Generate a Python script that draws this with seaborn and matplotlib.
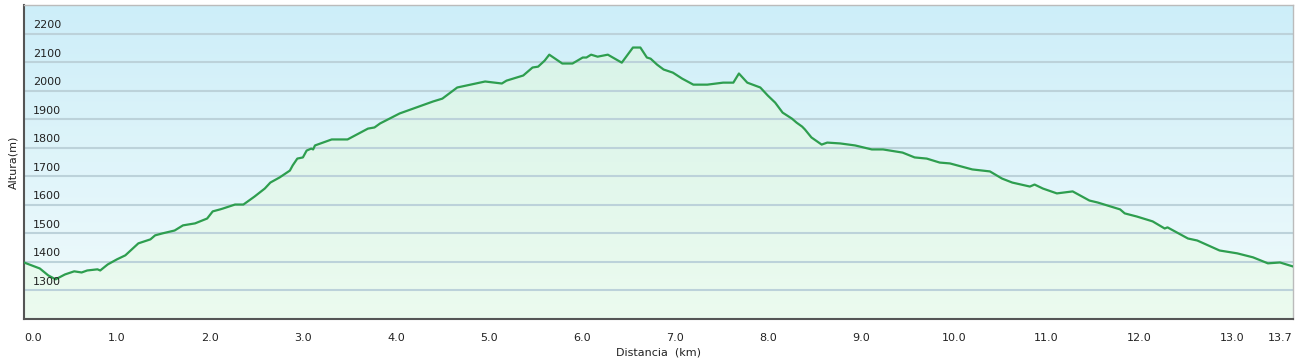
import numpy as np
import pandas as pd
import matplotlib
matplotlib.use("Agg")
import matplotlib.pyplot as plt
from matplotlib.colors import LinearSegmentedColormap
import seaborn as sns

# Perfil de altura (km, m)
distancia = [0.00, 0.17, 0.26, 0.34, 0.44, 0.54, 0.62, 0.68, 0.79, 0.82, 0.90, 1.00,
             1.09, 1.16, 1.23, 1.36, 1.41, 1.49, 1.62, 1.71, 1.84, 1.97, 2.03, 2.11,
             2.14, 2.27, 2.36, 2.48, 2.59, 2.65, 2.75, 2.86, 2.89, 2.94, 3.00, 3.04,
             3.09, 3.11, 3.13, 3.31, 3.48, 3.70, 3.77, 3.83, 4.04, 4.40, 4.50, 4.66,
             4.76, 4.96, 5.14, 5.19, 5.37, 5.47, 5.53, 5.60, 5.65, 5.79, 5.90, 6.01,
             6.05, 6.10, 6.17, 6.28, 6.43, 6.55, 6.63, 6.70, 6.74, 6.81, 6.88, 6.98,
             7.08, 7.20, 7.35, 7.52, 7.63, 7.69, 7.78, 7.92, 8.00, 8.08, 8.16, 8.26,
             8.31, 8.37, 8.40, 8.47, 8.58, 8.64, 8.78, 8.94, 9.12, 9.24, 9.45, 9.58,
             9.71, 9.85, 9.96, 10.20, 10.39, 10.52, 10.63, 10.82, 10.87, 10.96, 11.11,
             11.28, 11.46, 11.55, 11.79, 11.84, 11.97, 12.14, 12.27, 12.30, 12.52,
             12.62, 12.86, 13.05, 13.22, 13.38, 13.51, 13.65]
altura = [1398, 1377, 1353, 1339, 1356, 1367, 1363, 1370, 1374, 1370, 1391, 1409,
          1423, 1444, 1465, 1479, 1493, 1500, 1510, 1528, 1535, 1552, 1577, 1584,
          1587, 1601, 1601, 1629, 1657, 1678, 1696, 1720, 1738, 1762, 1766, 1790,
          1797, 1794, 1808, 1829, 1829, 1867, 1871, 1885, 1920, 1962, 1972, 2011,
          2018, 2032, 2025, 2035, 2053, 2081, 2084, 2105, 2126, 2095, 2095, 2116,
          2116, 2126, 2119, 2126, 2098, 2151, 2151, 2116, 2112, 2091, 2074, 2063,
          2042, 2021, 2021, 2028, 2028, 2060, 2028, 2011, 1983, 1958, 1923, 1902,
          1888, 1874, 1864, 1836, 1811, 1818, 1815, 1808, 1794, 1794, 1783, 1766,
          1762, 1748, 1745, 1724, 1717, 1692, 1678, 1664, 1671, 1657, 1640,
          1647, 1615, 1608, 1584, 1570, 1559, 1542, 1517, 1521, 1482,
          1475, 1440, 1430, 1416, 1395, 1398, 1384]

y_ticks = [1300, 1400, 1500, 1600, 1700, 1800, 1900, 2000, 2100, 2200]
x_ticks = [0, 1, 2, 3, 4, 5, 6, 7, 8, 9, 10, 11, 12, 13, 13.65]
x_labels = ["0.0", "1.0", "2.0", "3.0", "4.0", "5.0", "6.0", "7.0", "8.0", "9.0",
            "10.0", "11.0", "12.0", "13.0", "13.7"]

df = pd.DataFrame({"distancia": distancia, "altura": altura})

sns.set_style("white")
plt.rcParams["font.family"] = ["DejaVu Sans"]

fig = plt.figure(figsize=(12.98, 3.59), dpi=100)
ax = fig.add_axes([24 / 1298, 40 / 359, 1269 / 1298, 314 / 359])

xmin, xmax = 0, 13.65
ymin, ymax = 1200, 2300
ax.set_xlim(xmin, xmax)
ax.set_ylim(ymin, ymax)

# fondo degradado azul claro -> casi blanco
bg = LinearSegmentedColormap.from_list("bg", ["#f1fbfb", "#cdeef9"])
grad = np.linspace(0, 1, 256).reshape(-1, 1)
ax.imshow(grad, cmap=bg, aspect="auto", origin="lower",
          extent=[xmin, xmax, ymin, ymax], zorder=0)

# relleno verde bajo la curva (degradado recortado al poligono)
poly = ax.fill_between(df["distancia"], df["altura"], ymin, color="none", zorder=1)
fg = LinearSegmentedColormap.from_list("fg", ["#ecfbef", "#d6f3e8"])
img = ax.imshow(grad, cmap=fg, aspect="auto", origin="lower",
                extent=[xmin, xmax, ymin, ymax], zorder=1)
img.set_clip_path(poly.get_paths()[0], transform=ax.transData)

# rejilla
for y in y_ticks:
    ax.axhline(y, color="#bcd2da", lw=1.5, zorder=2)

sns.lineplot(data=df, x="distancia", y="altura", ax=ax, color="#2e9e4f",
             lw=1.6, zorder=3)

ax.set_yticks(y_ticks)
ax.set_yticklabels([])
ax.tick_params(axis="y", length=0)
for y in y_ticks:
    ax.text(0.1, y + 12, str(y), fontsize=8, color="#222222", va="bottom",
            ha="left", zorder=4)

ax.set_xticks(x_ticks)
ax.set_xticklabels(x_labels, fontsize=8, color="#222222")
ax.tick_params(axis="x", length=4, width=1, color="#444444", pad=6)
labels = ax.get_xticklabels()
labels[0].set_ha("left")
labels[-1].set_ha("right")

ax.set_xlabel("Distancia  (km)", fontsize=8, color="#222222", labelpad=3)
ax.set_ylabel("Altura(m)", fontsize=8, color="#222222", labelpad=0.5)

for side in ["left", "bottom"]:
    ax.spines[side].set_color("#555555")
    ax.spines[side].set_linewidth(1.5)
for side in ["top", "right"]:
    ax.spines[side].set_color("#bbbbbb")
    ax.spines[side].set_linewidth(1)

fig.savefig("out.png", dpi=100)
